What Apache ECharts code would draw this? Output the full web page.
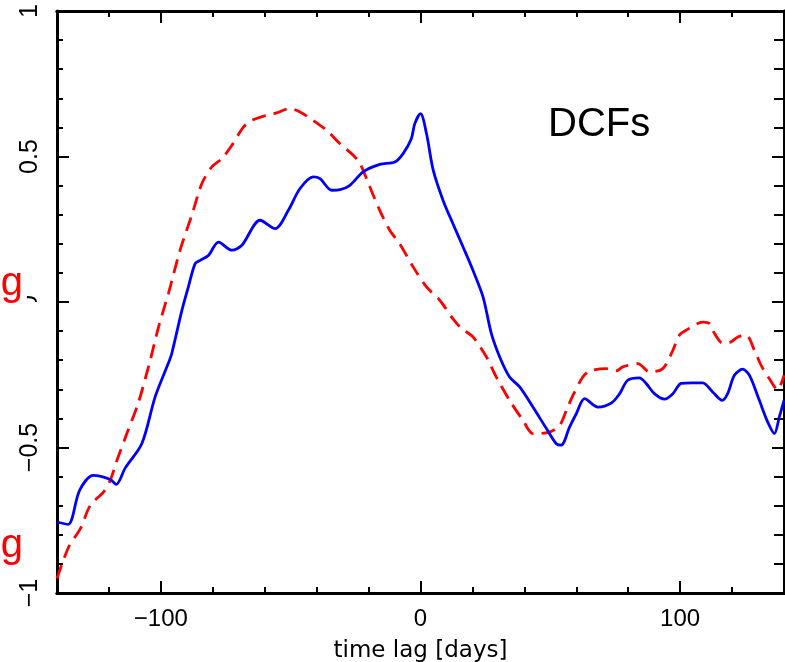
<!DOCTYPE html>
<html>
<head>
<meta charset="utf-8">
<script src="https://cdn.jsdelivr.net/npm/echarts@6/dist/echarts.min.js"></script>
<style>
html,body{margin:0;padding:0;background:#fff;}
#c{width:785px;height:662px;}
</style>
</head>
<body>
<div id="c"></div>
<script>
// Blue solid DCF
var lagBlue = [-140, -135.7, -131.3, -126, -119.5, -117.2, -113.7, -107.3, -102.2, -97.1, -95.8, -91.9, -89.4, -86.8, -84.9, -81.7, -77.8, -72.7, -68.8, -61.8, -56, -50.9, -46.4, -41.3, -38.7, -34.2, -31, -27.2, -22.1, -15.7, -9.9, -6.7, -3.5, -2.2, 0, 2.3, 4.9, 8.7, 12.5, 16.4, 20.2, 24.1, 27.3, 30.5, 34.3, 38.2, 43.3, 48.5, 52.3, 54.2, 57.4, 60, 63.2, 68.3, 73.5, 76.7, 79.8, 84.3, 86.9, 90.1, 94, 97.2, 100.4, 104.8, 108.7, 112.5, 116.2, 118.3, 120.9, 124.1, 126.7, 130.5, 133.7, 136.3, 138.2, 140];
var dcfBlue = [-0.756, -0.764, -0.647, -0.596, -0.61, -0.627, -0.57, -0.486, -0.326, -0.21, -0.177, -0.029, 0.052, 0.132, 0.143, 0.16, 0.206, 0.178, 0.195, 0.281, 0.252, 0.315, 0.39, 0.43, 0.424, 0.384, 0.386, 0.401, 0.447, 0.473, 0.481, 0.51, 0.562, 0.613, 0.647, 0.579, 0.453, 0.349, 0.269, 0.189, 0.109, 0.017, -0.109, -0.189, -0.258, -0.292, -0.361, -0.435, -0.487, -0.492, -0.43, -0.384, -0.332, -0.361, -0.347, -0.315, -0.269, -0.261, -0.28, -0.315, -0.334, -0.315, -0.28, -0.278, -0.278, -0.309, -0.338, -0.315, -0.252, -0.231, -0.252, -0.338, -0.412, -0.452, -0.395, -0.338];
// Red dashed DCF
var lagRed = [-140, -135.5, -131, -127.2, -122.1, -119.5, -116.9, -113.1, -108.6, -104.1, -100.9, -97.1, -92.6, -88.1, -84.2, -80.4, -76.5, -72.7, -68.2, -65, -59.2, -55.4, -50.3, -46.4, -41.3, -36.2, -31, -25.9, -23.3, -19.5, -15.7, -11.8, -8, -2.8, 2.3, 7.4, 12.5, 15.8, 20.2, 25.4, 29.2, 34.3, 39.5, 43.3, 49.7, 53.6, 56.2, 58.7, 62.5, 65.1, 71.5, 75.4, 77.9, 83.7, 88.2, 93.3, 97.2, 99.7, 102.3, 108.7, 111.3, 112.5, 116.4, 119.6, 122.2, 125.4, 128.6, 131.2, 134.3, 137.5, 140];
var dcfRed = [-0.95, -0.842, -0.779, -0.699, -0.653, -0.613, -0.544, -0.452, -0.344, -0.2, -0.086, 0.029, 0.178, 0.298, 0.407, 0.464, 0.493, 0.538, 0.601, 0.624, 0.642, 0.65, 0.665, 0.653, 0.624, 0.59, 0.544, 0.504, 0.476, 0.395, 0.315, 0.246, 0.2, 0.12, 0.052, 0.006, -0.058, -0.091, -0.12, -0.189, -0.258, -0.338, -0.407, -0.452, -0.447, -0.424, -0.372, -0.321, -0.258, -0.237, -0.229, -0.237, -0.223, -0.212, -0.24, -0.229, -0.166, -0.114, -0.097, -0.069, -0.074, -0.097, -0.141, -0.137, -0.12, -0.114, -0.166, -0.218, -0.263, -0.301, -0.252];
// Tick values
var xMajorTicks = [-100, 0, 100];
var xMinorTicks = [-120, -80, -60, -40, -20, 20, 40, 60, 80, 120];
var xLabel = 'time lag [days]';
var panelLabel = 'DCFs';

function pairs(xs, ys) { return xs.map(function (x, i) { return [x, ys[i]]; }); }
function minus(v) { return String(v).replace('-', '\u2212'); }

var chart = echarts.init(document.getElementById('c'), null, {renderer: 'canvas'});
var black = '#000';
function xAx(pos, major, labels) {
  return {
    type: 'value', position: pos, min: -140, max: 140,
    axisLine: {show: true, onZero: false, lineStyle: {color: black, width: 3}},
    axisTick: {show: true, inside: true, length: major ? 12 : 6, customValues: major ? xMajorTicks : xMinorTicks, lineStyle: {color: black, width: 2}},
    axisLabel: labels ? {show: true, customValues: xMajorTicks, formatter: minus, fontSize: 24, color: black, fontFamily: 'Liberation Sans, Arial, sans-serif', margin: 14} : {show: false},
    splitLine: {show: false},
    name: labels ? xLabel : '', nameLocation: 'middle', nameGap: 47,
    nameTextStyle: {fontFamily: 'DejaVu Sans', fontSize: 23, color: black}
  };
}
function yAx(pos, labels) {
  return {
    type: 'value', position: pos, min: -1, max: 1, interval: 0.5,
    axisLine: {show: true, onZero: false, lineStyle: {color: black, width: 3}},
    axisTick: {show: true, inside: true, length: 12, lineStyle: {color: black, width: 2}},
    minorTick: {show: true, splitNumber: 5, length: labels ? 6 : 10, lineStyle: {color: black, width: 2}},
    axisLabel: labels ? {show: true, rotate: 90, formatter: minus, fontSize: 25, color: black, fontFamily: 'Liberation Sans, Arial, sans-serif', margin: 14} : {show: false},
    splitLine: {show: false}, minorSplitLine: {show: false}
  };
}

chart.setOption({
  animation: false,
  backgroundColor: '#fff',
  grid: {left: 57, right: 1, top: 11, bottom: 69, containLabel: false, outerBoundsMode: 'none'},
  xAxis: [xAx('bottom', true, true), xAx('bottom', false, false), xAx('top', true, false), xAx('top', false, false)],
  yAxis: [yAx('left', true), yAx('right', false)],
  series: [
    {type: 'line', xAxisIndex: 0, yAxisIndex: 0, data: pairs(lagRed, dcfRed), showSymbol: false, smooth: 0.3,
     lineStyle: {color: '#ff0000', width: 2.8, type: [14, 8]}, z: 3},
    {type: 'line', xAxisIndex: 0, yAxisIndex: 0, data: pairs(lagBlue, dcfBlue), showSymbol: false, smooth: 0.3,
     lineStyle: {color: '#0000ff', width: 2.8}, z: 4}
  ],
  graphic: [
    {type: 'rect', shape: {x: 0, y: 302, width: 50, height: 12}, style: {fill: '#fff'}, z: 50},
    {type: 'rect', shape: {x: 0, y: 286, width: 27, height: 20}, style: {fill: '#fff'}, z: 50},
    {type: 'text', left: 548, top: 105, style: {text: panelLabel, font: '40px "Liberation Sans", Arial, sans-serif', fill: black}, z: 60},
    {type: 'text', x: 23, y: 304, style: {text: 'g', font: '40px "Liberation Sans", Arial, sans-serif', fill: '#ff0000', textAlign: 'right', textVerticalAlign: 'bottom'}, z: 60},
    {type: 'text', x: 23, y: 566, style: {text: 'g', font: '40px "Liberation Sans", Arial, sans-serif', fill: '#ff0000', textAlign: 'right', textVerticalAlign: 'bottom'}, z: 60}
  ]
});
</script>
</body>
</html>
